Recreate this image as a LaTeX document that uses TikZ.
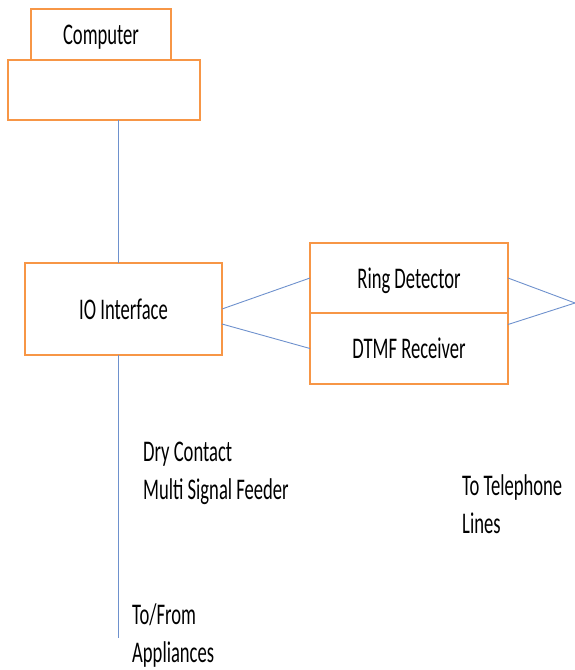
\documentclass[tikz,border=0pt]{standalone}
\usepackage{fontspec}
\setmainfont[FakeStretch=0.62]{Carlito}
\usetikzlibrary{positioning}
\definecolor{boxorange}{RGB}{247,150,70}
\definecolor{wireblue}{RGB}{110,145,205}
\tikzstyle{box} = [rectangle, draw=boxorange, line width=2.6pt, fill=white,
  align=center, inner sep=0pt, outer sep=0pt, text depth=0pt]
\tikzstyle{link} = [draw, wireblue, line width=0.9pt]
\tikzstyle{note} = [align=left, inner sep=0pt, anchor=west]
\begin{document}
\begin{tikzpicture}[x=1pt, y=-1pt, font=\fontsize{30}{38}\selectfont]
    \useasboundingbox (0,0) rectangle (575,670);
    \node[box, minimum width=140pt, minimum height=51pt] (computer) at (101,34.5) {Computer};
    \node[box, minimum width=192pt, minimum height=60pt, below=0pt of computer, xshift=3pt] (port) {};
    \node[box, minimum width=197pt, minimum height=92pt] (io) at (123.5,309) {IO Interface};

    \node[box, minimum width=198pt, minimum height=70pt] (ring) at (409,278) {Ring Detector};
    \node[box, minimum width=198pt, minimum height=71pt, below=0pt of ring] (dtmf) {DTMF Receiver};
    \coordinate (phone) at (575,303);
    \coordinate (appl) at (118,638);

    \node[note] (feeder) at (143,473) {Dry Contact\\Multi Signal Feeder};
    \node[note] (appliances) at (132,635) {To/From\\Appliances};
    \node[note] (lines) at (462,504) {To Telephone\\Lines};

    \path[link] ([xshift=14pt]port.south) -- ([xshift=-5.5pt]io.north);
    \path[link] ([xshift=-5.5pt]io.south) -- (appl);
    \path[link] (io.east) -- (ring.west);
    \path[link] ([yshift=-15pt]io.east) -- (dtmf.west);
    \path[link] (ring.east) -- (phone);
    \path[link] ([yshift=24pt]dtmf.east) -- (phone);
\end{tikzpicture}
\end{document}
